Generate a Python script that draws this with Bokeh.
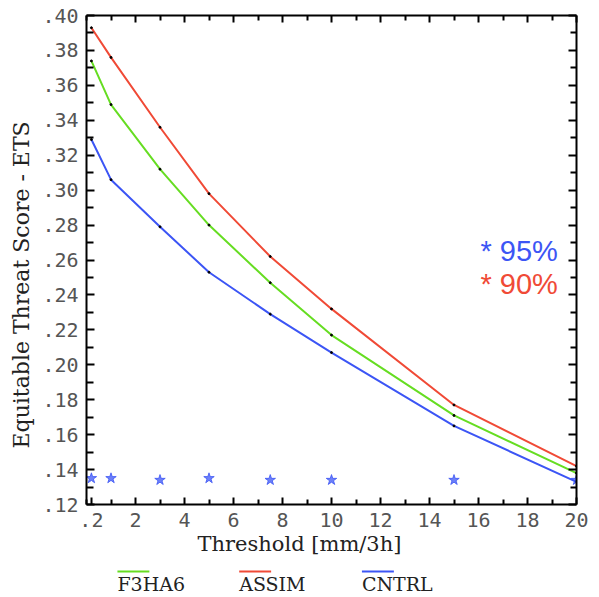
from bokeh.plotting import figure
from bokeh.layouts import column
from bokeh.models import (Range1d, FixedTicker, LinearAxis, Label, Title,
                          CustomLabelingPolicy)
from bokeh.embed import file_html
from bokeh.resources import INLINE

# ---- data ----
thresholds = [0.2, 1, 3, 5, 7.5, 10, 15, 20]
assim = [0.393, 0.376, 0.336, 0.298, 0.262, 0.232, 0.177, 0.142]
f3ha6 = [0.374, 0.349, 0.312, 0.280, 0.247, 0.217, 0.171, 0.138]
cntrl = [0.329, 0.306, 0.279, 0.253, 0.229, 0.207, 0.165, 0.133]
sig95 = [0.135, 0.135, 0.134, 0.135, 0.134, 0.134, 0.134, 0.134]

x_ticks = [0.2, 2, 4, 6, 8, 10, 12, 14, 16, 18, 20]
x_tick_labels = [".2", "2", "4", "6", "8", "10", "12", "14", "16", "18", "20"]
x_minor = [0, 1, 3, 5, 7, 9, 11, 13, 15, 17, 19]
y_ticks = [0.12, 0.14, 0.16, 0.18, 0.20, 0.22, 0.24, 0.26, 0.28, 0.30, 0.32, 0.34, 0.36, 0.38, 0.40]
y_tick_labels = [".12", ".14", ".16", ".18", ".20", ".22", ".24", ".26", ".28", ".30",
                 ".32", ".34", ".36", ".38", ".40"]
y_minor = [0.13, 0.15, 0.17, 0.19, 0.21, 0.23, 0.25, 0.27, 0.29, 0.31, 0.33, 0.35, 0.37, 0.39]

series_names = ["F3HA6", "ASSIM", "CNTRL"]
series_colors = ["#66dd22", "#f04a36", "#3c55f5"]

RED = "#f04a36"
BLUE = "#3c55f5"
TICK_FONT = "DejaVu Sans Mono"
SERIF = "DejaVu Serif"
TEXT_COLOR = "#222222"

FRAME_L, FRAME_W = 86, 490

p = figure(frame_width=FRAME_W, frame_height=489,
           x_range=Range1d(0, 20), y_range=Range1d(0.12, 0.40),
           output_backend="svg", toolbar_location=None,
           min_border_left=FRAME_L, min_border_right=23, min_border_top=15, min_border_bottom=10,
           x_axis_location=None, y_axis_location=None)
p.outline_line_color = None
p.grid.visible = False

hide_all = CustomLabelingPolicy(code="for (const i of indices) indices.unset(i); return indices")


def style_axis(ax, show_labels, major_in, minor_in):
    ax.axis_line_width = 2
    ax.axis_line_color = "black"
    ax.major_tick_in = major_in
    ax.major_tick_out = 0
    ax.minor_tick_in = minor_in
    ax.minor_tick_out = 0
    ax.major_tick_line_width = 2
    ax.minor_tick_line_width = 2
    ax.major_tick_line_color = "black"
    ax.minor_tick_line_color = "black"
    if show_labels:
        ax.major_label_text_font = TICK_FONT
        ax.major_label_text_font_size = "20px"
        ax.major_label_text_color = "#555555"
        ax.major_label_standoff = 8
    else:
        ax.major_label_policy = hide_all
        ax.major_label_standoff = 0


xb = LinearAxis(ticker=FixedTicker(ticks=x_ticks, minor_ticks=x_minor),
                major_label_overrides=dict(zip(x_ticks, x_tick_labels)))
style_axis(xb, True, 7, 5)
p.add_layout(xb, "below")

xt = LinearAxis(ticker=FixedTicker(ticks=[t for t in x_ticks if t >= 1], minor_ticks=x_minor))
style_axis(xt, False, 7, 5)
p.add_layout(xt, "above")

yl = LinearAxis(ticker=FixedTicker(ticks=y_ticks, minor_ticks=y_minor),
                major_label_overrides=dict(zip(y_ticks, y_tick_labels)))
style_axis(yl, True, 8, 7)
p.add_layout(yl, "left")

yr = LinearAxis(ticker=FixedTicker(ticks=y_ticks, minor_ticks=y_minor))
style_axis(yr, False, 8, 6)
p.add_layout(yr, "right")

# axis titles (off-centre like the reference)
p.add_layout(Title(text="Threshold [mm/3h]", align="left", offset=111, standoff=0,
                   text_font=SERIF, text_font_size="21px", text_font_style="normal",
                   text_color=TEXT_COLOR), "below")
p.add_layout(Title(text="Equitable Threat Score - ETS", align="left", offset=56, standoff=12,
                   text_font=SERIF, text_font_size="22px", text_font_style="normal",
                   text_color=TEXT_COLOR), "left")

# ---- lines ----
for vals, col in zip([f3ha6, assim, cntrl], series_colors):
    p.line(thresholds, vals, line_color=col, line_width=2)
    p.scatter(thresholds, vals, size=2, color="black")

# significance stars
p.scatter(thresholds, sig95, marker="star", size=11, fill_color=BLUE, fill_alpha=0.75,
          line_color=BLUE, line_width=0.8)

# ---- in-plot annotations ----
p.add_layout(Label(x=16.08, y=0.2652, text="* 95%", text_color=BLUE,
                   text_font="Liberation Sans", text_font_size="29px",
                   text_baseline="alphabetic", text_align="left"))
p.add_layout(Label(x=16.08, y=0.2464, text="* 90%", text_color=RED,
                   text_font="Liberation Sans", text_font_size="29px",
                   text_baseline="alphabetic", text_align="left"))

# ---- legend strip below the plot (page-pixel coordinates, frame aligned with plot) ----
leg = figure(width=599, height=40, x_range=Range1d(FRAME_L, FRAME_L + FRAME_W),
             y_range=Range1d(40, 0),
             output_backend="svg", toolbar_location=None, min_border=0,
             x_axis_location=None, y_axis_location=None)
leg.outline_line_color = None
leg.grid.visible = False
leg_x0 = [117, 239, 362]
seg_w = 32
leg_line_y = 16
leg_text_y = 28
leg.segment(x0=leg_x0, y0=[leg_line_y] * 3, x1=[x + seg_w for x in leg_x0], y1=[leg_line_y] * 3,
            line_color=series_colors, line_width=2)
leg.text(x=leg_x0, y=[leg_text_y] * 3, text=series_names, text_color=TEXT_COLOR,
         text_font={"value": SERIF}, text_font_size="19px",
         text_baseline="middle", text_align="left")

layout = column(p, leg, spacing=0)
open("out.html", "w").write(file_html(layout, INLINE))
